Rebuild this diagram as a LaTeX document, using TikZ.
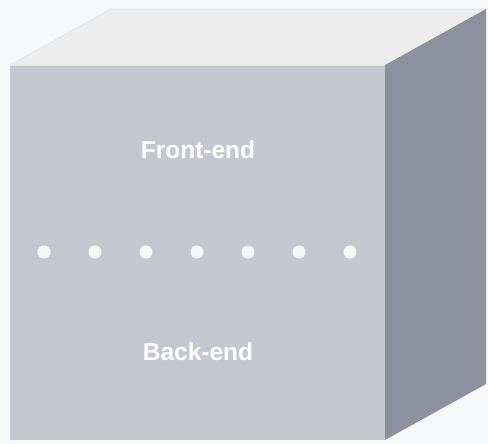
\documentclass[tikz,border=0pt]{standalone}
\usepackage{fontspec}
\setmainfont{Liberation Sans}
\begin{document}
\begin{tikzpicture}[x=1pt,y=-1pt,
  lbl/.style={text=white,font=\fontsize{24.5}{28}\selectfont\bfseries},
  dot/.style={circle,fill=dotc,inner sep=0pt,minimum size=13pt}]
\definecolor{bgc}{HTML}{F7F8FA}
\definecolor{frontc}{HTML}{C4C7CF}
\definecolor{topc}{HTML}{EDEDED}
\definecolor{sidec}{HTML}{8D909E}
\definecolor{dotc}{HTML}{F5F7FA}
\definecolor{edgec}{HTML}{E2E3E6}
\fill[bgc] (0,0) rectangle (488,444);
\useasboundingbox (0,0) rectangle (488,444);
\fill[topc] (10,65) -- (111,9) -- (486,9) -- (385,65) -- cycle;
\draw[edgec,line width=0.8pt] (10,65) -- (111,9) -- (486,9);
\fill[sidec] (385,65) -- (486,9) -- (486,384) -- (385,440) -- cycle;
\fill[frontc] (10,65) rectangle (385,440);
\draw[edgec,line width=0.8pt] (10,65) -- (385,65);
\node[lbl] (fe) at (198,150) {Front-end};
\node[lbl] (be) at (198,352) {Back-end};
\foreach \i in {0,...,6} {
  \node[dot] (d\i) at ({44+51*\i},252) {};
}
\end{tikzpicture}
\end{document}
